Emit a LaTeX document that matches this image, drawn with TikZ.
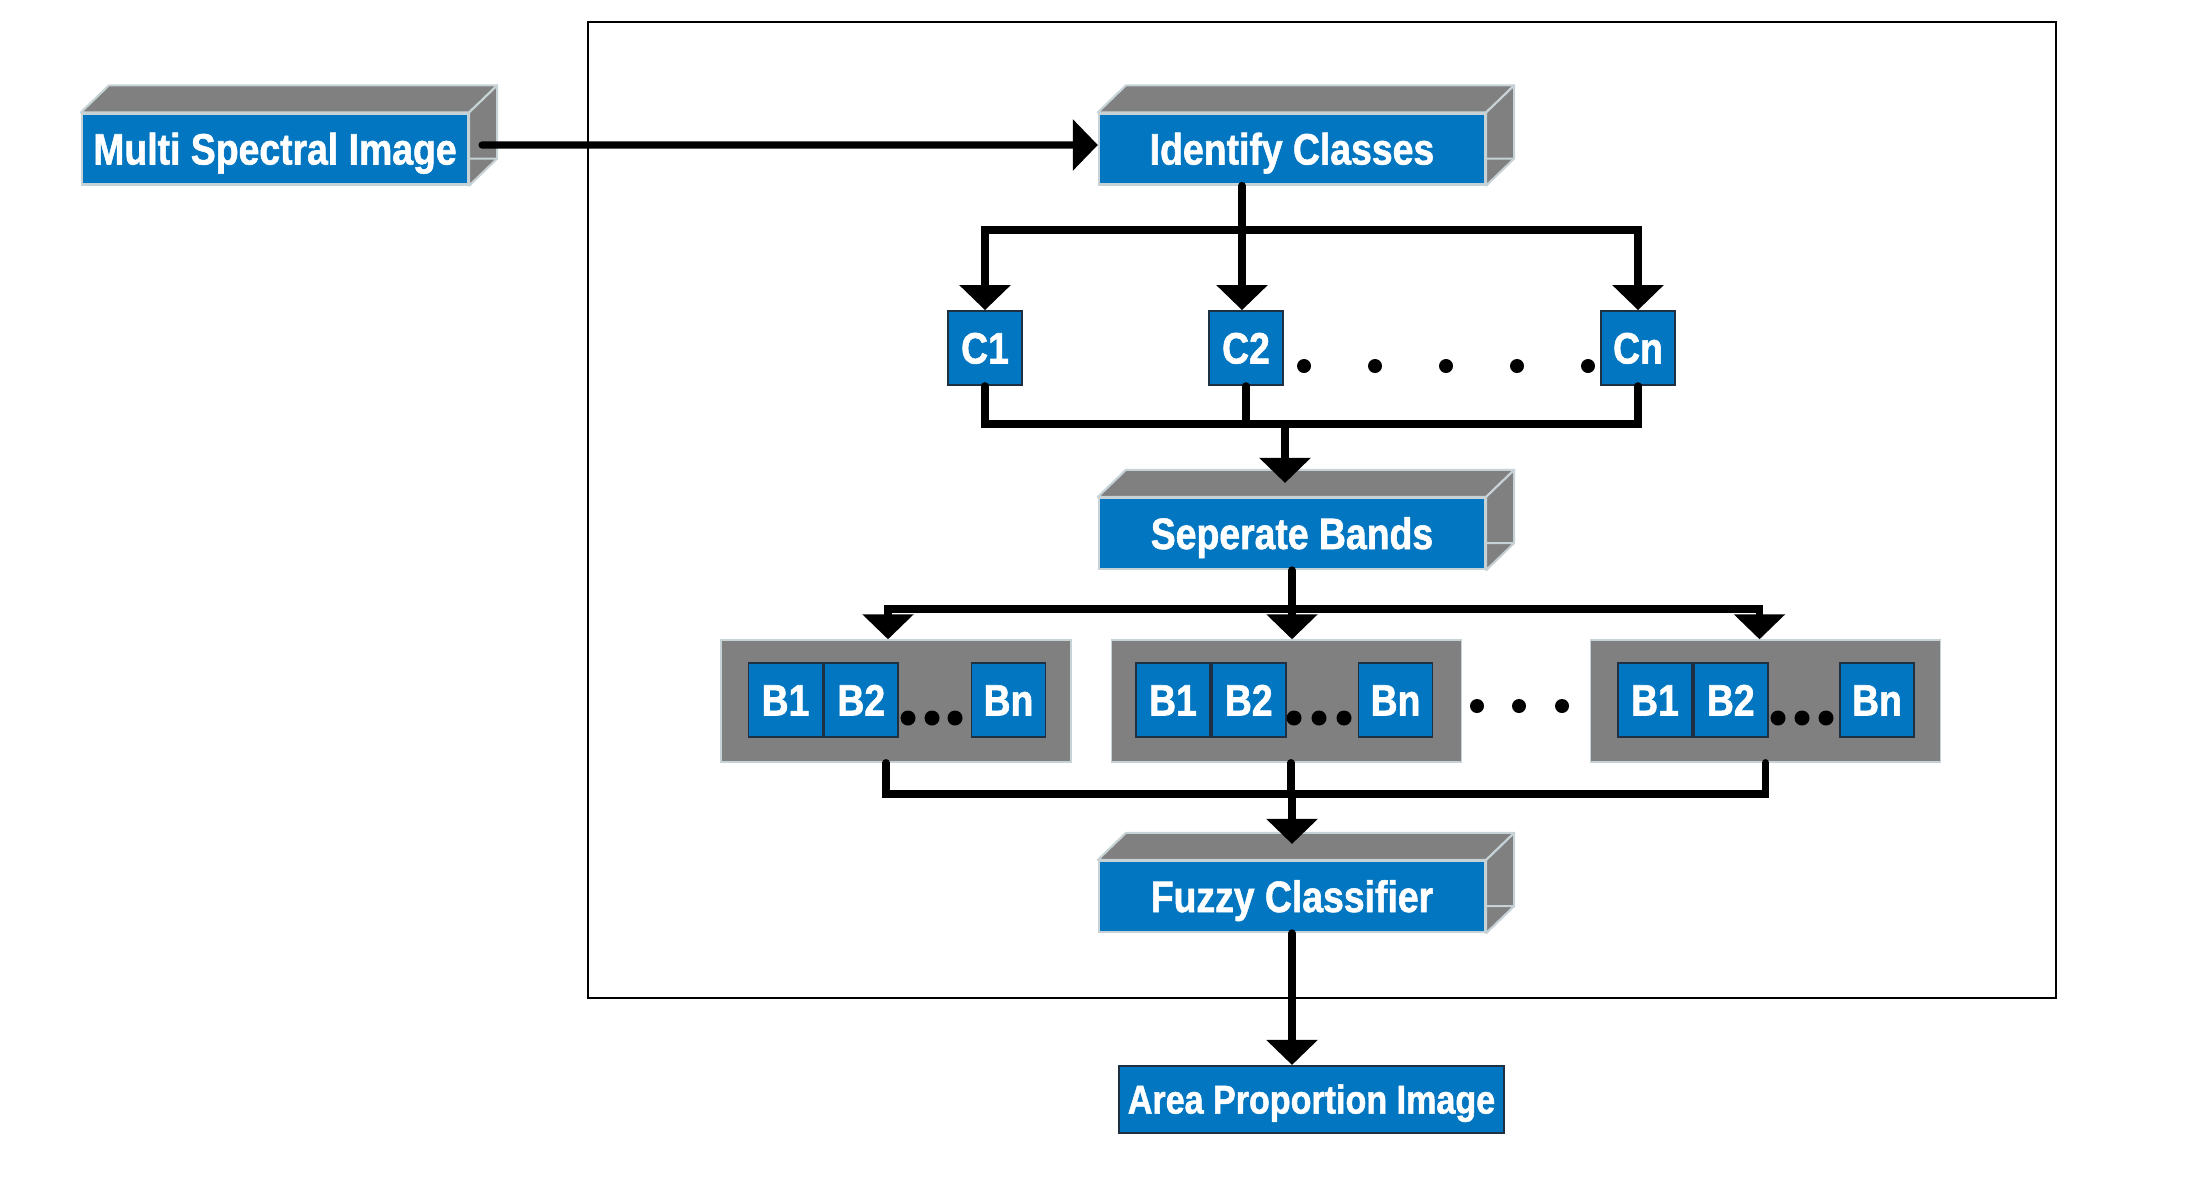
\documentclass[tikz,border=0pt]{standalone}
\usepackage{fontspec}
\newfontfamily\boxfont[FakeStretch=0.85,FakeBold=1.3]{Liberation Sans}
\usetikzlibrary{arrows.meta,positioning}
\definecolor{boxblue}{RGB}{2,118,192}
\definecolor{facegray}{RGB}{128,128,128}
\definecolor{edgegray}{RGB}{198,210,214}
\definecolor{boxline}{RGB}{30,48,66}
\begin{document}
\begin{tikzpicture}[x=0.01cm, y=-0.01cm, line cap=round,
	slab/.style = {draw=edgegray, line width=0.6pt, fill=boxblue, text=white, inner sep=0pt, minimum width=3.86cm, minimum height=0.71cm, text height=0.31cm, text depth=0pt, font={\boxfont\bfseries\fontsize{12.5}{14}\selectfont}},
	cls/.style = {draw=boxline, line width=0.5pt, fill=boxblue, text=white, inner sep=0pt, minimum size=0.74cm, text height=0.31cm, text depth=0pt, font={\boxfont\bfseries\fontsize{12.5}{14}\selectfont}},
	grp/.style = {draw=edgegray, line width=0.4pt, fill=facegray, inner sep=0pt, minimum width=3.5cm, minimum height=1.22cm},
	result/.style = {draw=boxline, line width=0.6pt, fill=boxblue, text=white, inner sep=0pt, minimum width=3.85cm, minimum height=0.67cm, text height=0.28cm, text depth=0pt, font={\boxfont\bfseries\fontsize{11.4}{13}\selectfont}},
	face/.style = {fill=facegray, draw=edgegray, line width=0.6pt, line join=round},
	bus/.style = {line width=2.1pt},
	flow/.style = {line width=2.1pt, -{Triangle[length=0.25cm,width=0.5cm]}}]
	\useasboundingbox (0,0) rectangle (2200,1200);
	% outer frame
	\draw[line width=0.8pt] (588,22) rectangle (2056,998);
	\node[slab] (msi) at (275,149) {Multi Spectral Image};
	\node[slab] (ident) at (1292,149) {Identify Classes};
	\node[cls] (c1) at (985,348) {C1};
	\node[cls] (c2) at (1246,348) {C2};
	\node[cls] (cn) at (1638,348) {Cn};
	\node[slab] (sepb) at (1292,533.5) {Seperate Bands};
	% band groups
	\node[grp] (g1) at (896,701) {};
	\node[cls] (g1b1) at (785.5,700) {B1};
	\node[cls, right=0pt of g1b1] (g1b2) {B2};
	\node[cls] (g1bn) at (1008.5,700) {Bn};
	\node[grp] (g2) at (1286.5,701) {};
	\node[cls] (g2b1) at (1173,700) {B1};
	\node[cls, right=0pt of g2b1] (g2b2) {B2};
	\node[cls] (g2bn) at (1395.5,700) {Bn};
	\node[grp] (g3) at (1765.5,701) {};
	\node[cls] (g3b1) at (1655,700) {B1};
	\node[cls, right=0pt of g3b1] (g3b2) {B2};
	\node[cls] (g3bn) at (1877,700) {Bn};
	\node[slab] (fuzzy) at (1292,896.5) {Fuzzy Classifier};
	\node[result] (api) at (1311.5,1099.5) {Area Proportion Image};
	% 3d faces
	\foreach \n in {msi,ident,sepb,fuzzy}{
		\filldraw[face] (\n.north west) -- ++(28,-27) -- ([shift={(28,-27)}]\n.north east) -- (\n.north east) -- cycle;
		\filldraw[face] (\n.north east) -- ([shift={(28,-27)}]\n.north east) -- ([shift={(28,-27)}]\n.south east) -- (\n.south east) -- cycle;
		\draw[edgegray, line width=0.6pt] ([yshift=0.27cm]\n.south east) -- ([shift={(28,-27)}]\n.south east);
	}
	% dots
	\fill (1304,366) circle (0.07cm) (1375,366) circle (0.07cm) (1446,366) circle (0.07cm) (1517,366) circle (0.07cm) (1588,366) circle (0.07cm);
	\fill (908,718) circle (0.075cm) (932,718) circle (0.075cm) (955,718) circle (0.075cm);
	\fill (1294,718) circle (0.075cm) (1319,718) circle (0.075cm) (1344,718) circle (0.075cm);
	\fill (1778,718) circle (0.075cm) (1802,718) circle (0.075cm) (1826,718) circle (0.075cm);
	\fill (1477,706) circle (0.07cm) (1519,706) circle (0.07cm) (1562,706) circle (0.07cm);
	% connectors
	\coordinate (ctop) at (1242,230);
	\coordinate (cbot) at (1246,424);
	\coordinate (sbin) at ([xshift=-0.07cm,yshift=0.14cm]sepb.north);
	\coordinate (gtop) at (1291,609);
	\coordinate (gbot) at (1291,794);
	\coordinate (fcin) at ([yshift=0.16cm]fuzzy.north);
	\draw[flow] ([shift={(13,-4)}]msi.east) -- ([yshift=0.04cm]ident.west);
	\draw[flow] (ctop |- ident.south) -- (ctop |- c2.north);
	\draw[flow] (ctop) -| (c1.north);
	\draw[flow] (ctop) -| (cn.north);
	\draw[bus] (c1.south) |- (cbot -| cn) -- (cn.south);
	\draw[bus] (c2.south) -- (cbot);
	\draw[flow] (sbin |- cbot) -- (sbin);
	\draw[flow] (sepb.south) -- (sepb.south |- g2.north);
	\draw[flow] (gtop) -| ([xshift=-0.08cm]g1.north);
	\draw[flow] (gtop) -| ([xshift=-0.06cm]g3.north);
	\draw[bus] ([xshift=-0.1cm]g1.south) |- (gbot -| g3) -- (g3.south);
	\draw[bus] (g2.south -| gbot) -- (gbot);
	\draw[flow] (fcin |- gbot) -- (fcin);
	\draw[flow] (fuzzy.south) -- (fuzzy.south |- api.north);
\end{tikzpicture}
\end{document}
